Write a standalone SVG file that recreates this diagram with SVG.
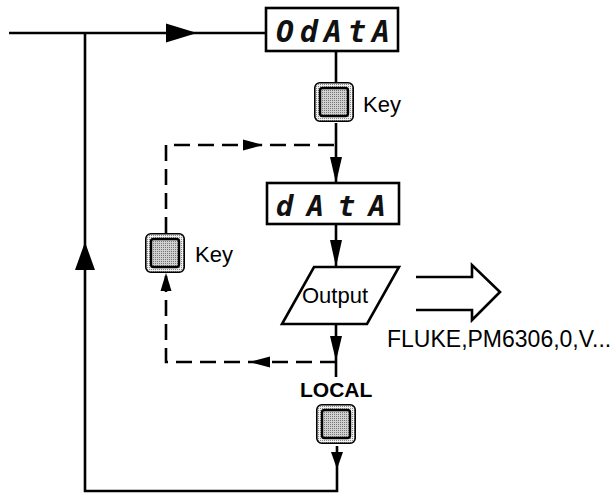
<svg xmlns="http://www.w3.org/2000/svg" xmlns:xlink="http://www.w3.org/1999/xlink" width="612" height="496" viewBox="0 0 612 496">
<style>
.ln{fill:none;stroke:#000;stroke-width:2.6}
.dash{fill:none;stroke:#000;stroke-width:2.6;stroke-dasharray:16 8}
.ah{fill:#000;stroke:none}
.box{fill:#fff;stroke:#000;stroke-width:2.6}
.seg{font-family:"DejaVu Sans Mono",monospace;font-style:italic;font-weight:bold;fill:#111}
.lbl{font-family:"Liberation Sans",Arial,sans-serif;font-size:22px;fill:#000}
.bold{font-weight:bold;font-size:21px}
</style>
<defs>
<pattern id="dots" width="2" height="2" patternUnits="userSpaceOnUse">
<rect width="2" height="2" fill="#f0f0f0"/>
<rect width="1" height="1" fill="#888"/>
</pattern>
<pattern id="dots2" width="2" height="2" patternUnits="userSpaceOnUse">
<rect width="2" height="2" fill="#d0d0d0"/>
<rect width="1" height="1" fill="#777"/>
</pattern>
<g id="keybtn">
<rect x="0.8" y="0.8" width="38.4" height="38.4" rx="5" fill="url(#dots)" stroke="#000" stroke-width="1.6"/>
<rect x="6" y="6" width="28" height="28" rx="2.5" fill="url(#dots2)" stroke="#000" stroke-width="2.4"/>
</g>
</defs>
<rect width="612" height="496" fill="#fff"/>

<g id="connectors">
<path class="ln" d="M9,33 H267"/>
<polygon class="ah" points="166,23.5 197,33 166,42.5"/>
<path class="ln" d="M85,33 V491 H337 V446"/>
<polygon class="ah" points="75,270 85,242 95,270"/>
<polygon class="ah" points="331,452 337,469 343,452"/>
<path class="ln" d="M336,51 V82"/>
<path class="ln" d="M336,123 V183"/>
<polygon class="ah" points="330,157 336,183 342,157"/>
<path class="ln" d="M336,224 V267"/>
<polygon class="ah" points="330,240 336,267 342,240"/>
<path class="ln" d="M336,324 V377"/>
<polygon class="ah" points="330,336 336,361 342,336"/>
<path class="dash" d="M336,362 H166 V273"/>
<path class="dash" d="M166,233 V145 H336"/>
<polygon class="ah" points="243,139.5 263,145 243,150.5"/>
<polygon class="ah" points="270,356.5 249,362 270,367.5"/>
<polygon class="ah" points="160.5,291 166,273 171.5,291"/>
<path class="ln" d="M416,277 H472 V265 L500,292 L472,320 V310 H416" stroke-linejoin="miter"/>
</g>

<g id="display-odata">
<rect class="box" x="266" y="8" width="132" height="43"/>
<text class="seg" x="276" y="42" font-size="30" textLength="114" lengthAdjust="spacing">OdAtA</text>
</g>

<g id="key1">
<use xlink:href="#keybtn" x="314" y="82"/>
<text class="lbl" x="363" y="112">Key</text>
</g>

<g id="display-data">
<rect class="box" x="267" y="183" width="132" height="41"/>
<text class="seg" x="276" y="216" font-size="29" textLength="110" lengthAdjust="spacing">dAtA</text>
</g>

<g id="output">
<polygon class="box" points="314,267 399,267 367,324 282,324"/>
<text class="lbl" x="302" y="303">Output</text>
</g>

<g id="key2">
<use xlink:href="#keybtn" x="145" y="233"/>
<text class="lbl" x="195" y="262">Key</text>
</g>

<g id="local">
<text class="lbl bold" x="300" y="397">LOCAL</text>
<use xlink:href="#keybtn" x="316" y="404"/>
</g>

<g id="output-text">
<text class="lbl" x="387" y="347" style="font-size:23px">FLUKE,PM6306,0,V...</text>
</g>
</svg>
